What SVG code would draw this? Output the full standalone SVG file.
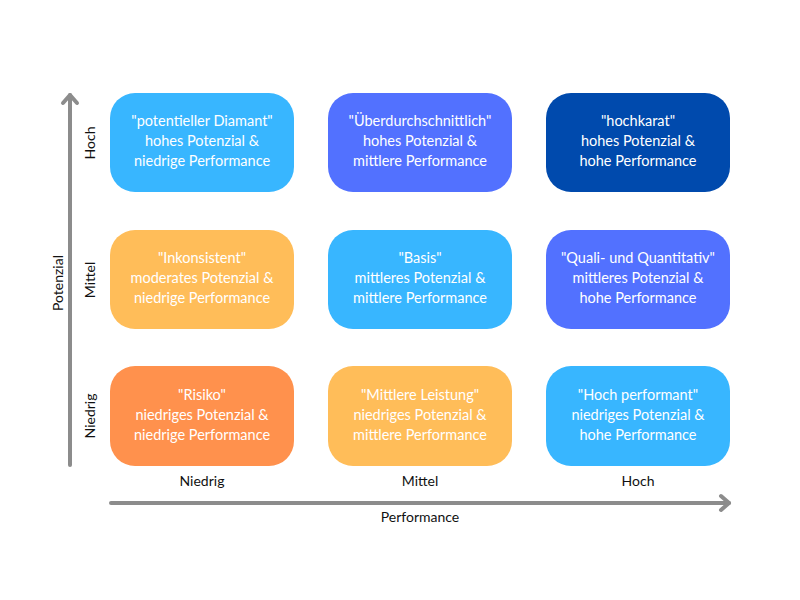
<svg xmlns="http://www.w3.org/2000/svg" width="800" height="600" viewBox="0 0 800 600">
<style>
.box{stroke:none}
.t{font-family:Lato,"Noto Sans",sans-serif;font-size:14.5px;fill:#ffffff;text-anchor:middle}
.ax{font-family:Lato,"Noto Sans",sans-serif;font-size:14px;fill:#111111;text-anchor:middle}
.axl{stroke:#8c8c8c;stroke-width:4;fill:none;stroke-linecap:round;stroke-linejoin:round}
</style>
<rect width="800" height="600" fill="#ffffff"/>
<g id="connectors">
<path class="axl" d="M70 465 V95"/>
<path class="axl" d="M63 103 L70 95 L77 103"/>
<path class="axl" d="M111 503 H729"/>
<path class="axl" d="M721 496 L729 503 L721 510"/>
</g>
<g id="n11"><rect class="box" x="110" y="93" width="184" height="99" rx="25" fill="#38B6FF"/>
<text class="t" x="202" y="126">"potentieller Diamant"</text><text class="t" x="202" y="146">hohes Potenzial &amp;</text><text class="t" x="202" y="166">niedrige Performance</text></g>
<g id="n12"><rect class="box" x="328" y="93" width="184" height="99" rx="25" fill="#5271FF"/>
<text class="t" x="420" y="126">"Überdurchschnittlich"</text><text class="t" x="420" y="146">hohes Potenzial &amp;</text><text class="t" x="420" y="166">mittlere Performance</text></g>
<g id="n13"><rect class="box" x="546" y="93" width="184" height="99" rx="25" fill="#004AAD"/>
<text class="t" x="638" y="126">"hochkarat"</text><text class="t" x="638" y="146">hohes Potenzial &amp;</text><text class="t" x="638" y="166">hohe Performance</text></g>
<g id="n21"><rect class="box" x="110" y="230" width="184" height="99" rx="25" fill="#FFBD59"/>
<text class="t" x="202" y="263">"Inkonsistent"</text><text class="t" x="202" y="283">moderates Potenzial &amp;</text><text class="t" x="202" y="303">niedrige Performance</text></g>
<g id="n22"><rect class="box" x="328" y="230" width="184" height="99" rx="25" fill="#38B6FF"/>
<text class="t" x="420" y="263">"Basis"</text><text class="t" x="420" y="283">mittleres Potenzial &amp;</text><text class="t" x="420" y="303">mittlere Performance</text></g>
<g id="n23"><rect class="box" x="546" y="230" width="184" height="99" rx="25" fill="#5271FF"/>
<text class="t" x="638" y="263">"Quali- und Quantitativ"</text><text class="t" x="638" y="283">mittleres Potenzial &amp;</text><text class="t" x="638" y="303">hohe Performance</text></g>
<g id="n31"><rect class="box" x="110" y="366" width="184" height="100" rx="25" fill="#FF914D"/>
<text class="t" x="202" y="400">"Risiko"</text><text class="t" x="202" y="420">niedriges Potenzial &amp;</text><text class="t" x="202" y="440">niedrige Performance</text></g>
<g id="n32"><rect class="box" x="328" y="366" width="184" height="100" rx="25" fill="#FFBD59"/>
<text class="t" x="420" y="400">"Mittlere Leistung"</text><text class="t" x="420" y="420">niedriges Potenzial &amp;</text><text class="t" x="420" y="440">mittlere Performance</text></g>
<g id="n33"><rect class="box" x="546" y="366" width="184" height="100" rx="25" fill="#38B6FF"/>
<text class="t" x="638" y="400">"Hoch performant"</text><text class="t" x="638" y="420">niedriges Potenzial &amp;</text><text class="t" x="638" y="440">hohe Performance</text></g>
<g id="labels">
<text class="ax" transform="translate(95,143) rotate(-90)">Hoch</text>
<text class="ax" transform="translate(95,280) rotate(-90)">Mittel</text>
<text class="ax" transform="translate(95,416) rotate(-90)">Niedrig</text>
<text class="ax" transform="translate(63,283) rotate(-90)">Potenzial</text>
<text class="ax" x="202" y="486">Niedrig</text>
<text class="ax" x="420" y="486">Mittel</text>
<text class="ax" x="638" y="486">Hoch</text>
<text class="ax" x="420" y="522">Performance</text>
</g>
</svg>
